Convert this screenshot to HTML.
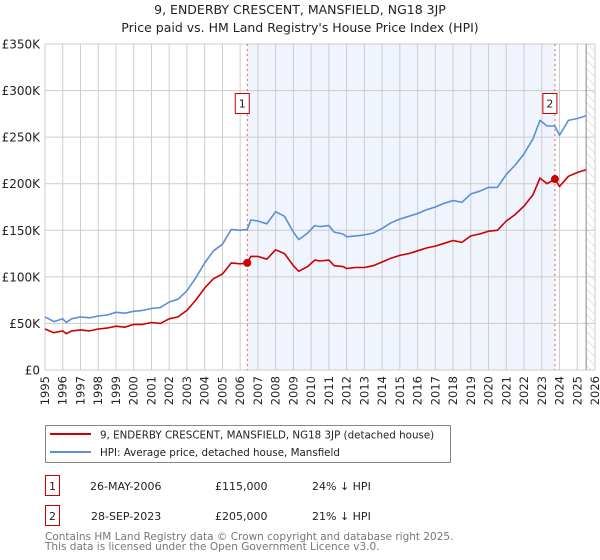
<!DOCTYPE html>
<html><head><meta charset="utf-8"><style>
body{margin:0;background:#fff;font-family:"DejaVu Sans","Liberation Sans",sans-serif;}
svg{display:block}
</style></head><body>
<svg id="chart" width="600" height="560" font-family="DejaVu Sans, Liberation Sans, sans-serif">
<defs><pattern id="hatch" width="6" height="6" patternUnits="userSpaceOnUse" patternTransform="rotate(-45)"><line x1="0" y1="0" x2="0" y2="6" stroke="#ccc" stroke-width="1"/></pattern></defs>
<text x="300" y="14" text-anchor="middle" font-size="12.5" fill="#222">9, ENDERBY CRESCENT, MANSFIELD, NG18 3JP</text>
<text x="300" y="32" text-anchor="middle" font-size="12.5" fill="#222">Price paid vs. HM Land Registry's House Price Index (HPI)</text>
<g id="plot"></g>
<g>
<rect x="45.5" y="425.5" width="405" height="37" fill="#fff" stroke="#888"/>
<line x1="50" y1="434" x2="91" y2="434" stroke="#cc0000" stroke-width="2"/>
<text x="100" y="438.5" font-size="10.3" fill="#222">9, ENDERBY CRESCENT, MANSFIELD, NG18 3JP (detached house)</text>
<line x1="50" y1="452" x2="91" y2="452" stroke="#5b8ed6" stroke-width="2"/>
<text x="100" y="456" font-size="10.3" fill="#222">HPI: Average price, detached house, Mansfield</text>
</g>
<g font-size="11" fill="#222">
<rect x="45.5" y="475.5" width="14" height="20" fill="#fff" stroke="#cc0000"/>
<text x="52.5" y="490" text-anchor="middle">1</text>
<text x="90" y="490">26-MAY-2006</text><text x="215" y="490">£115,000</text><text x="312" y="490">24% ↓ HPI</text>
<rect x="45.5" y="505.5" width="14" height="20" fill="#fff" stroke="#cc0000"/>
<text x="52.5" y="520" text-anchor="middle">2</text>
<text x="91" y="520">28-SEP-2023</text><text x="215" y="520">£205,000</text><text x="312" y="520">21% ↓ HPI</text>
</g>
<text x="45" y="540" font-size="10.5" fill="#777">Contains HM Land Registry data © Crown copyright and database right 2025.</text>
<text x="45" y="550" font-size="10.5" fill="#777">This data is licensed under the Open Government Licence v3.0.</text>
</svg>
<script>
const hpiYears=[1995,1995.5,1996,1996.2,1996.5,1997,1997.5,1998,1998.5,1999,1999.5,2000,2000.5,2001,2001.5,2002,2002.5,2003,2003.5,2004,2004.5,2005,2005.5,2006,2006.4,2006.6,2007,2007.5,2008,2008.5,2009,2009.3,2009.8,2010.2,2010.5,2011,2011.3,2011.8,2012,2012.5,2013,2013.5,2014,2014.5,2015,2015.5,2016,2016.5,2017,2017.5,2018,2018.5,2019,2019.5,2020,2020.5,2021,2021.5,2022,2022.5,2022.9,2023.3,2023.74,2024,2024.5,2025,2025.5];
const hpiValues=[57,52,55,51,55,57,56,58,59,62,61,63,64,66,67,73,76,85,99,115,128,135,151,150,151,161,160,157,170,165,148,140,147,155,154,155,148,146,143,144,145,147,152,158,162,165,168,172,175,179,182,180,189,192,196,196,210,220,232,248,268,262,262,252,268,270,273];
const propValues=[44,40,42,39,42,43,42,44,45,47,46,49,49,51,50,55,57,64,75,88,98,103,115,114,115,122,122,119,129,125,112,106,111,118,117,118,112,111,109,110,110,112,116,120,123,125,128,131,133,136,139,137,144,146,149,150,160,167,176,188,206,200,205,197,208,212,215];
const saleYears=[2006.4,2023.74];
const salePrices=[115,205];
const saleLabels=["1","2"];
const yTicks=[0,50,100,150,200,250,300,350];
const yTickLabels=["£0","£50K","£100K","£150K","£200K","£250K","£300K","£350K"];
const xTicks=[1995,1996,1997,1998,1999,2000,2001,2002,2003,2004,2005,2006,2007,2008,2009,2010,2011,2012,2013,2014,2015,2016,2017,2018,2019,2020,2021,2022,2023,2024,2025,2026];

const X0=45,X1=595,Y0=370,Y1=44;
const xs=y=>X0+(y-1995)/(2026-1995)*(X1-X0);
const ys=v=>Y0-v/350*(Y0-Y1);
const NS="http://www.w3.org/2000/svg";
const g=document.getElementById('plot');
function mk(t,a,p){const e=document.createElementNS(NS,t);for(const k in a)e.setAttribute(k,a[k]);(p||g).appendChild(e);return e;}

const bg=mk('rect',{x:X0,y:Y1,width:X1-X0,height:Y0-Y1,fill:'#fff'});


const sh=mk('rect',{x:xs(saleYears[0]),y:Y1,width:xs(saleYears[1])-xs(saleYears[0]),height:Y0-Y1,fill:'#f0f4fd'});


const ht=mk('rect',{x:xs(2025.5),y:Y1,width:X1-xs(2025.5),height:Y0-Y1,fill:'url(#hatch)'});



xTicks.forEach(t=>{
 const l=mk('line',{x1:xs(t),y1:Y1,x2:xs(t),y2:Y0,stroke:'#ccc'});
 
 
 const tx=mk('text',{x:0,y:0,'font-size':11.5,fill:'#222','text-anchor':'end',transform:`translate(${xs(t)+4},${Y0+6}) rotate(-90)`});
 tx.textContent=t;
 
 
});
yTicks.forEach((t,i)=>{
 const l=mk('line',{x1:X0,y1:ys(t),x2:X1,y2:ys(t),stroke:'#ccc'});
 
 
 const tx=mk('text',{x:X0-5,y:ys(t)+4.5,'font-size':12,fill:'#222','text-anchor':'end'});
 tx.textContent=yTickLabels[i];
 
 
});
mk('line',{x1:xs(2025.5),y1:Y1,x2:xs(2025.5),y2:Y0,stroke:'#888'});

saleYears.forEach((sy,i)=>{
 const l=mk('line',{x1:xs(sy),y1:Y1,x2:xs(sy),y2:Y0,stroke:'#e06060','stroke-dasharray':'2,3'});
 
 
});

function line(vals,color,name){
 const d=vals.map((v,i)=>(i?'L':'M')+xs(hpiYears[i]).toFixed(1)+','+ys(v).toFixed(1)).join('');
 const p=mk('path',{d:d,fill:'none',stroke:color,'stroke-width':1.6,'stroke-linejoin':'round'});
 
 
}
line(hpiValues,'#5b8ed6','hpi-line');
line(propValues,'#cc0000','property-price-line');

saleYears.forEach((sy,i)=>{
 const c=mk('circle',{cx:xs(sy),cy:ys(salePrices[i]),r:4,fill:'#cc0000'});
 
 
 const bx=xs(sy)-12;
 const r=mk('rect',{x:bx,y:93.5,width:14,height:20,fill:'#fff',stroke:'#cc0000'});
 
 
 const tx=mk('text',{x:bx+7,y:107.5,'font-size':11,fill:'#222','text-anchor':'middle'});
 tx.textContent=saleLabels[i];
 
 
});
</script>
</body></html>
